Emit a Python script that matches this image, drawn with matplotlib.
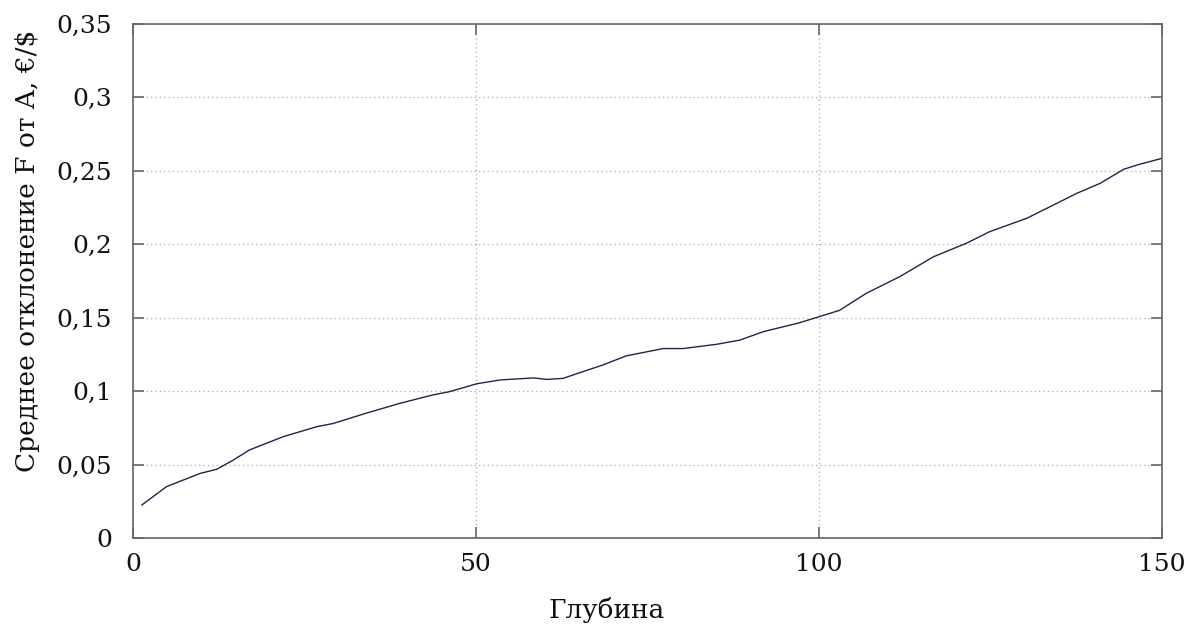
import matplotlib
matplotlib.use("Agg")
import matplotlib.pyplot as plt
from matplotlib.ticker import FuncFormatter

# Глубина vs среднее отклонение
depth = [1.3, 4.9, 9.8, 12.2, 14.6, 17.0, 21.9, 26.8, 29.2, 34.0, 38.9, 43.7,
         46.2, 50.1, 53.5, 58.4, 60.3, 62.7, 65.6, 68.5, 71.9, 77.3, 80.2,
         85.1, 88.5, 91.9, 97.2, 100.1, 103.0, 106.9, 111.8, 116.7, 121.5,
         124.9, 130.3, 133.7, 137.6, 141.0, 144.4, 146.4, 150.0]
deviation = [0.0225, 0.035, 0.044, 0.0468, 0.053, 0.060, 0.069, 0.0758, 0.078,
             0.085, 0.0917, 0.0974, 0.0997, 0.105, 0.1076, 0.109, 0.108, 0.1087,
             0.1133, 0.1178, 0.124, 0.129, 0.129, 0.1319, 0.1348, 0.1405,
             0.1466, 0.1508, 0.155, 0.1666, 0.178, 0.1915, 0.2007, 0.2086,
             0.2177, 0.2256, 0.2347, 0.2415, 0.251, 0.254, 0.2585]

xticks = [0, 50, 100, 150]
yticks = [0, 0.05, 0.1, 0.15, 0.2, 0.25, 0.3, 0.35]

plt.rcParams["font.family"] = ["DejaVu Serif"]

fig = plt.figure(figsize=(11.99, 6.3), dpi=100, facecolor="white")
ax = fig.add_axes([0.1109, 0.146, 0.8582, 0.816])

ax.plot(depth, deviation, color="#23234a", linewidth=1.0)

ax.set_xlim(0, 150)
ax.set_ylim(0, 0.35)
ax.set_xticks(xticks)
ax.set_yticks(yticks)
ax.yaxis.set_major_formatter(FuncFormatter(lambda v, p: f"{v:g}".replace(".", ",")))

ax.grid(True, color="#aaaaaa", linestyle=(0, (1, 2.5)), linewidth=0.9)
ax.tick_params(direction="in", length=8, width=1.2, color="#666666",
               top=True, right=True, labelsize=18, labelcolor="#111111")
ax.tick_params(axis="x", pad=11)
ax.tick_params(axis="y", pad=15)
for s in ax.spines.values():
    s.set_color("#666666")
    s.set_linewidth(1.2)

ax.set_xlabel("Глубина", fontsize=19, color="#111111")
ax.set_ylabel("Среднее отклонение F от A, €/$", fontsize=19, color="#111111")
ax.xaxis.set_label_coords(0.4606, -0.115)
ax.yaxis.set_label_coords(-0.09, 0.558)

plt.savefig("out.png", dpi=100, facecolor="white")
plt.close()
